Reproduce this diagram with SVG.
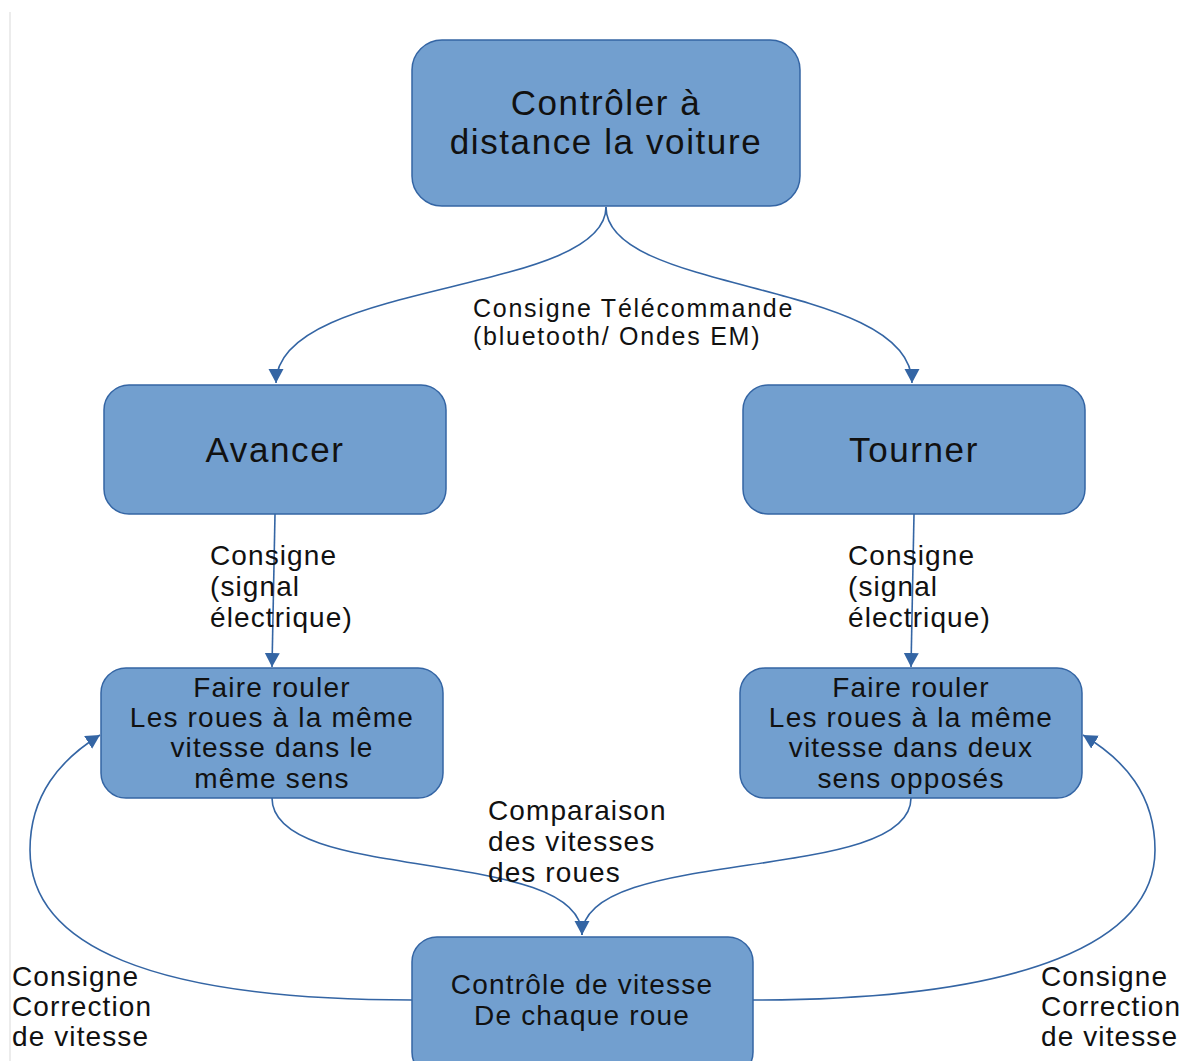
<svg xmlns="http://www.w3.org/2000/svg" width="1189" height="1061" viewBox="0 0 1189 1061">
<defs>
<style>
.node{fill:#729fcf;stroke:#3465a4;stroke-width:1.5}
.big{font-family:"Liberation Sans",Arial,sans-serif;font-size:35px;letter-spacing:1.6px;fill:#111;text-anchor:middle}
.mid{font-family:"Liberation Sans",Arial,sans-serif;font-size:28px;letter-spacing:1.2px;fill:#111;text-anchor:middle}
.lbl{font-family:"Liberation Sans",Arial,sans-serif;font-size:28px;letter-spacing:1.1px;fill:#111}
.top{font-size:25px;letter-spacing:1.75px}
.edge{fill:none;stroke:#3465a4;stroke-width:1.6}
</style>
<marker id="arr" markerUnits="userSpaceOnUse" markerWidth="16" markerHeight="16" refX="14" refY="7.5" orient="auto">
<path d="M0,0 L14,7.5 L0,15 z" fill="#3465a4"/>
</marker>
</defs>
<rect width="1189" height="1061" fill="#fff"/>
<line x1="10" y1="12" x2="10" y2="1061" stroke="#e6e6e6" stroke-width="1.5"/>
<g id="connectors">
<path class="edge" d="M606,207 C606,295 276,280 276,383" marker-end="url(#arr)"/>
<path class="edge" d="M606,207 C606,295 912,280 912,383" marker-end="url(#arr)"/>
<path class="edge" d="M275,514 L272,667" marker-end="url(#arr)"/>
<path class="edge" d="M914,514 L911,667" marker-end="url(#arr)"/>
<path class="edge" d="M272,798 C272,885 582,845 582,935" marker-end="url(#arr)"/>
<path class="edge" d="M911,798 C911,885 582,845 582,935"/>
<path class="edge" d="M412,1000 C150,1000 30,945 30,850 C30,795 60,760 100,735" marker-end="url(#arr)"/>
<path class="edge" d="M753,1000 C1030,1000 1155,940 1155,850 C1155,795 1125,760 1083,735" marker-end="url(#arr)"/>
<text class="lbl top" x="473" y="317">Consigne Télécommande</text>
<text class="lbl top" x="473" y="345">(bluetooth/ Ondes EM)</text>
<text class="lbl" x="210" y="565">Consigne</text>
<text class="lbl" x="210" y="596">(signal</text>
<text class="lbl" x="210" y="627">électrique)</text>
<text class="lbl" x="848" y="565">Consigne</text>
<text class="lbl" x="848" y="596">(signal</text>
<text class="lbl" x="848" y="627">électrique)</text>
<text class="lbl" x="488" y="820">Comparaison</text>
<text class="lbl" x="488" y="851">des vitesses</text>
<text class="lbl" x="488" y="882">des roues</text>
<text class="lbl" x="12" y="986">Consigne</text>
<text class="lbl" x="12" y="1016">Correction</text>
<text class="lbl" x="12" y="1046">de vitesse</text>
<text class="lbl" x="1041" y="986">Consigne</text>
<text class="lbl" x="1041" y="1016">Correction</text>
<text class="lbl" x="1041" y="1046">de vitesse</text>
</g>
<g id="node-controler">
<rect class="node" x="412" y="40" width="388" height="166" rx="30"/>
<text class="big" x="606" y="115">Contrôler à</text>
<text class="big" x="606" y="154">distance la voiture</text>
</g>
<g id="node-avancer">
<rect class="node" x="104" y="385" width="342" height="129" rx="25"/>
<text class="big" x="275" y="462">Avancer</text>
</g>
<g id="node-tourner">
<rect class="node" x="743" y="385" width="342" height="129" rx="25"/>
<text class="big" x="914" y="462">Tourner</text>
</g>
<g id="node-faire-gauche">
<rect class="node" x="101" y="668" width="342" height="130" rx="25"/>
<text class="mid" x="272" y="697">Faire rouler</text>
<text class="mid" x="272" y="727">Les roues à la même</text>
<text class="mid" x="272" y="757">vitesse dans le</text>
<text class="mid" x="272" y="788">même sens</text>
</g>
<g id="node-faire-droite">
<rect class="node" x="740" y="668" width="342" height="130" rx="25"/>
<text class="mid" x="911" y="697">Faire rouler</text>
<text class="mid" x="911" y="727">Les roues à la même</text>
<text class="mid" x="911" y="757">vitesse dans deux</text>
<text class="mid" x="911" y="788">sens opposés</text>
</g>
<g id="node-controle">
<rect class="node" x="412" y="937" width="341" height="140" rx="25"/>
<text class="mid" x="582" y="994">Contrôle de vitesse</text>
<text class="mid" x="582" y="1025">De chaque roue</text>
</g>
</svg>
